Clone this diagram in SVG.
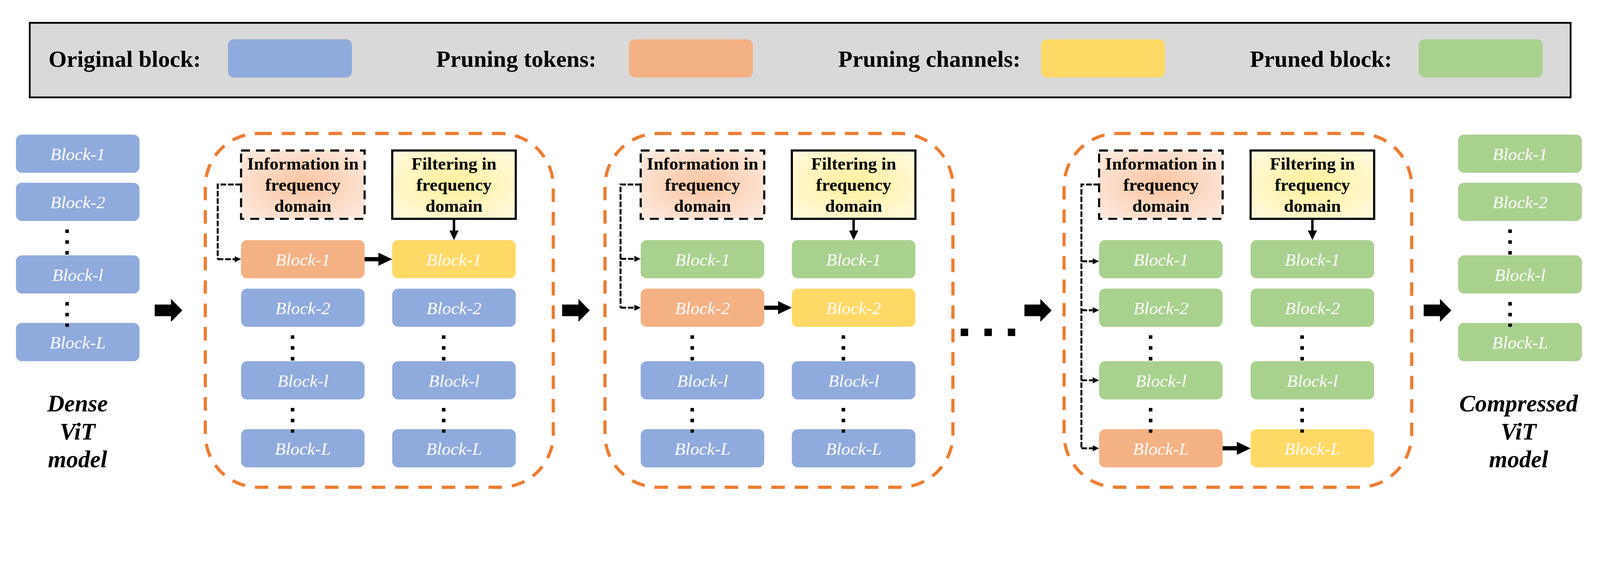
<svg xmlns="http://www.w3.org/2000/svg" width="4520" height="1441" viewBox="0 0 4520 1441" style="max-width:100vw;height:auto;display:block">
<style>
.bl{fill:#8FAADC}.or{fill:#F4B183}.ye{fill:#FFD966}.gr{fill:#A9D18E}
.bt{font-family:"Liberation Serif","Times New Roman",serif;font-style:italic;font-size:50px;fill:#fff;text-anchor:middle}
.lt{font-family:"Liberation Serif","Times New Roman",serif;font-weight:bold;font-size:66px;fill:#000}
.it{font-family:"Liberation Serif","Times New Roman",serif;font-weight:bold;font-size:50px;fill:#000;text-anchor:middle}
.mt{font-family:"Liberation Serif","Times New Roman",serif;font-weight:bold;font-style:italic;font-size:67px;fill:#000;text-anchor:middle}
.stage{fill:none;stroke:#ED7D31;stroke-width:9;stroke-dasharray:38 28}
.info{fill:url(#gInfo);stroke:#000;stroke-width:6;stroke-dasharray:25 17}
.filt{fill:url(#gFilt);stroke:#000;stroke-width:6}
.dots{fill:none;stroke:#000;stroke-width:10;stroke-dasharray:10 20.5}
.conn{fill:none;stroke:#000;stroke-width:5.5;stroke-dasharray:16 5}
.down{fill:none;stroke:#000;stroke-width:7;marker-end:url(#ahF)}
.solid{fill:#000}
</style>
<defs>
<radialGradient id="gInfo" cx="0.5" cy="0.5" r="0.7">
<stop offset="0" stop-color="#F9C3A0"/>
<stop offset="1" stop-color="#FEEDE3"/>
</radialGradient>
<radialGradient id="gFilt" cx="0.5" cy="0.5" r="0.7">
<stop offset="0" stop-color="#FFF09A"/>
<stop offset="1" stop-color="#FFFAE2"/>
</radialGradient>
<marker id="ah" markerUnits="userSpaceOnUse" markerWidth="18" markerHeight="17" refX="6" refY="8.5" orient="auto">
<path d="M0,0 L18,8.5 L0,17 Z" fill="#000"/>
</marker>
<marker id="ahF" markerUnits="userSpaceOnUse" markerWidth="27" markerHeight="26" refX="9" refY="13" orient="auto">
<path d="M0,0 L27,13 L0,26 Z" fill="#000"/>
</marker>
</defs>
<rect width="4520" height="1441" fill="#fff"/>

<g id="legend">
<rect x="84" y="64.5" width="4353" height="210.5" fill="#D9D9D9" stroke="#000" stroke-width="5"/>
<text class="lt" x="137" y="189">Original block:</text>
<rect class="bl" x="644" y="111" width="350" height="108" rx="17"/>
<text class="lt" x="1232" y="189">Pruning tokens:</text>
<rect class="or" x="1777" y="111" width="350" height="108" rx="17"/>
<text class="lt" x="2368" y="189">Pruning channels:</text>
<rect class="ye" x="2941" y="111" width="350" height="108" rx="17"/>
<text class="lt" x="3531" y="189">Pruned block:</text>
<rect class="gr" x="4008" y="111" width="350" height="108" rx="17"/>
</g>

<g id="dense-model">
<rect class="bl" x="45" y="380" width="349" height="108" rx="17"/><text class="bt" x="219.5" y="452">Block-1</text>
<rect class="bl" x="45" y="516" width="349" height="108" rx="17"/><text class="bt" x="219.5" y="588">Block-2</text>
<rect class="bl" x="45" y="721" width="349" height="108" rx="17"/><text class="bt" x="219.5" y="793">Block-l</text>
<rect class="bl" x="45" y="912" width="349" height="108" rx="17"/><text class="bt" x="219.5" y="984">Block-L</text>
<text class="mt" x="219" y="1162">Dense</text>
<text class="mt" x="219" y="1241">ViT</text>
<text class="mt" x="219" y="1320">model</text>
</g>

<g id="stage-1">
<rect class="stage" x="580" y="377" width="983" height="999" rx="150"/>
<rect class="info" x="681" y="425" width="349" height="193"/>
<text class="it" x="855.5" y="479">Information in</text>
<text class="it" x="855.5" y="539">frequency</text>
<text class="it" x="855.5" y="598">domain</text>
<rect class="filt" x="1108" y="425" width="349" height="193"/>
<text class="it" x="1282.5" y="479">Filtering in</text>
<text class="it" x="1282.5" y="539">frequency</text>
<text class="it" x="1282.5" y="598">domain</text>
<rect class="or" x="681" y="678" width="349" height="108" rx="17"/><text class="bt" x="855.5" y="750">Block-1</text>
<rect class="ye" x="1108" y="678" width="349" height="108" rx="17"/><text class="bt" x="1282.5" y="750">Block-1</text>
<rect class="bl" x="681" y="815" width="349" height="108" rx="17"/><text class="bt" x="855.5" y="887">Block-2</text>
<rect class="bl" x="1108" y="815" width="349" height="108" rx="17"/><text class="bt" x="1282.5" y="887">Block-2</text>
<rect class="bl" x="681" y="1020" width="349" height="108" rx="17"/><text class="bt" x="855.5" y="1092">Block-l</text>
<rect class="bl" x="1108" y="1020" width="349" height="108" rx="17"/><text class="bt" x="1282.5" y="1092">Block-l</text>
<rect class="bl" x="681" y="1212" width="349" height="108" rx="17"/><text class="bt" x="855.5" y="1284">Block-L</text>
<rect class="bl" x="1108" y="1212" width="349" height="108" rx="17"/><text class="bt" x="1282.5" y="1284">Block-L</text>
</g>

<g id="stage-2">
<rect class="stage" x="1709" y="377" width="983" height="999" rx="150"/>
<rect class="info" x="1810" y="425" width="349" height="193"/>
<text class="it" x="1984.5" y="479">Information in</text>
<text class="it" x="1984.5" y="539">frequency</text>
<text class="it" x="1984.5" y="598">domain</text>
<rect class="filt" x="2237" y="425" width="349" height="193"/>
<text class="it" x="2411.5" y="479">Filtering in</text>
<text class="it" x="2411.5" y="539">frequency</text>
<text class="it" x="2411.5" y="598">domain</text>
<rect class="gr" x="1810" y="678" width="349" height="108" rx="17"/><text class="bt" x="1984.5" y="750">Block-1</text>
<rect class="gr" x="2237" y="678" width="349" height="108" rx="17"/><text class="bt" x="2411.5" y="750">Block-1</text>
<rect class="or" x="1810" y="815" width="349" height="108" rx="17"/><text class="bt" x="1984.5" y="887">Block-2</text>
<rect class="ye" x="2237" y="815" width="349" height="108" rx="17"/><text class="bt" x="2411.5" y="887">Block-2</text>
<rect class="bl" x="1810" y="1020" width="349" height="108" rx="17"/><text class="bt" x="1984.5" y="1092">Block-l</text>
<rect class="bl" x="2237" y="1020" width="349" height="108" rx="17"/><text class="bt" x="2411.5" y="1092">Block-l</text>
<rect class="bl" x="1810" y="1212" width="349" height="108" rx="17"/><text class="bt" x="1984.5" y="1284">Block-L</text>
<rect class="bl" x="2237" y="1212" width="349" height="108" rx="17"/><text class="bt" x="2411.5" y="1284">Block-L</text>
</g>

<g id="stage-3">
<rect class="stage" x="3006" y="377" width="982" height="999" rx="150"/>
<rect class="info" x="3105" y="425" width="349" height="193"/>
<text class="it" x="3279.5" y="479">Information in</text>
<text class="it" x="3279.5" y="539">frequency</text>
<text class="it" x="3279.5" y="598">domain</text>
<rect class="filt" x="3533" y="425" width="349" height="193"/>
<text class="it" x="3707.5" y="479">Filtering in</text>
<text class="it" x="3707.5" y="539">frequency</text>
<text class="it" x="3707.5" y="598">domain</text>
<rect class="gr" x="3105" y="678" width="349" height="108" rx="17"/><text class="bt" x="3279.5" y="750">Block-1</text>
<rect class="gr" x="3533" y="678" width="349" height="108" rx="17"/><text class="bt" x="3707.5" y="750">Block-1</text>
<rect class="gr" x="3105" y="815" width="349" height="108" rx="17"/><text class="bt" x="3279.5" y="887">Block-2</text>
<rect class="gr" x="3533" y="815" width="349" height="108" rx="17"/><text class="bt" x="3707.5" y="887">Block-2</text>
<rect class="gr" x="3105" y="1020" width="349" height="108" rx="17"/><text class="bt" x="3279.5" y="1092">Block-l</text>
<rect class="gr" x="3533" y="1020" width="349" height="108" rx="17"/><text class="bt" x="3707.5" y="1092">Block-l</text>
<rect class="or" x="3105" y="1212" width="349" height="108" rx="17"/><text class="bt" x="3279.5" y="1284">Block-L</text>
<rect class="ye" x="3533" y="1212" width="349" height="108" rx="17"/><text class="bt" x="3707.5" y="1284">Block-L</text>
</g>

<g id="compressed-model">
<rect class="gr" x="4119" y="380" width="350" height="108" rx="17"/><text class="bt" x="4294" y="452">Block-1</text>
<rect class="gr" x="4119" y="516" width="350" height="108" rx="17"/><text class="bt" x="4294" y="588">Block-2</text>
<rect class="gr" x="4119" y="721" width="350" height="108" rx="17"/><text class="bt" x="4294" y="793">Block-l</text>
<rect class="gr" x="4119" y="912" width="350" height="108" rx="17"/><text class="bt" x="4294" y="984">Block-L</text>
<text class="mt" x="4290" y="1162">Compressed</text>
<text class="mt" x="4290" y="1241">ViT</text>
<text class="mt" x="4290" y="1320">model</text>
</g>

<g id="ellipsis">
<rect class="solid" x="2714" y="928" width="21" height="21"/>
<rect class="solid" x="2781" y="928" width="21" height="21"/>
<rect class="solid" x="2847" y="928" width="21" height="21"/>
</g>

<g id="dots">
<path class="dots" d="M189.5,648 V720 M189.5,853 V923 M4266,648 V720 M4266,853 V923"/>
<path class="dots" d="M826.5,947 V1019 M826.5,1152 V1222 M1253.5,947 V1019 M1253.5,1152 V1222"/>
<path class="dots" d="M1955.5,947 V1019 M1955.5,1152 V1222 M2382.5,947 V1019 M2382.5,1152 V1222"/>
<path class="dots" d="M3250.5,947 V1019 M3250.5,1152 V1222 M3678.5,947 V1019 M3678.5,1152 V1222"/>
</g>

<g id="connectors">
<polygon class="solid" points="437,860 483,860 483,844 515,876.5 483,909 483,893 437,893"/>
<polygon class="solid" points="1588,860 1634,860 1634,844 1666,876.5 1634,909 1634,893 1588,893"/>
<polygon class="solid" points="2894,860 2939,860 2939,844 2971,876.5 2939,909 2939,893 2894,893"/>
<polygon class="solid" points="4022,860 4068,860 4068,844 4100,876.5 4068,909 4068,893 4022,893"/>

<path class="down" d="M1282.5,620 V660"/>
<path class="down" d="M2411.5,620 V660"/>
<path class="down" d="M3707.5,620 V660"/>

<polygon class="solid" points="1030,726 1069,726 1069,713.5 1108,732 1069,750.5 1069,738 1030,738"/>
<polygon class="solid" points="2159,863 2198,863 2198,850.5 2237,869 2198,887.5 2198,875 2159,875"/>
<polygon class="solid" points="3454,1260 3494,1260 3494,1247.5 3533,1266 3494,1284.5 3494,1272 3454,1272"/>

<path class="conn" d="M681,521 H615 V732"/>
<path class="conn" marker-end="url(#ah)" d="M615,732 H669"/>

<path class="conn" d="M1810,521 H1753 V869"/>
<path class="conn" marker-end="url(#ah)" d="M1753,731 H1798"/>
<path class="conn" marker-end="url(#ah)" d="M1753,869 H1798"/>

<path class="conn" d="M3105,521 H3055 V1266"/>
<path class="conn" marker-end="url(#ah)" d="M3055,738 H3093"/>
<path class="conn" marker-end="url(#ah)" d="M3055,876 H3093"/>
<path class="conn" marker-end="url(#ah)" d="M3055,1074 H3093"/>
<path class="conn" marker-end="url(#ah)" d="M3055,1266 H3093"/>
</g>
</svg>
